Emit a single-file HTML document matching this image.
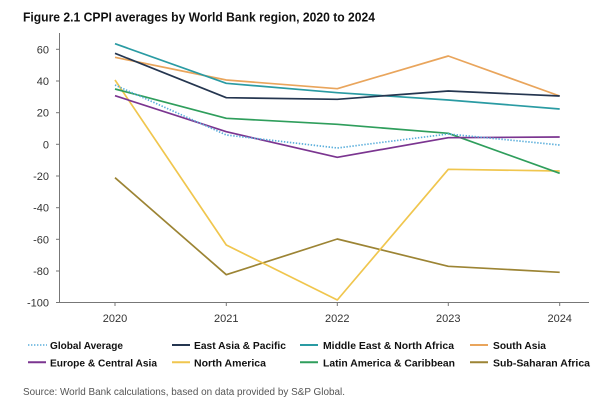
<!DOCTYPE html>
<html><head><meta charset="utf-8"><style>
html,body{margin:0;padding:0;background:#fff;}
body{width:600px;height:409px;overflow:hidden;position:relative;font-family:"Liberation Sans",sans-serif;}
svg{position:absolute;left:0;top:0;}
</style></head><body>
<svg width="600" height="409" viewBox="0 0 600 409" xmlns="http://www.w3.org/2000/svg">
<text x="23" y="21.5" font-family="Liberation Sans, sans-serif" font-weight="bold" font-size="12.6" fill="#111" textLength="352" lengthAdjust="spacingAndGlyphs">Figure 2.1 CPPI averages by World Bank region, 2020 to 2024</text>
<g stroke="#777" stroke-width="1" fill="none">
<line x1="59.5" y1="33" x2="59.5" y2="302.5"/>
<line x1="59.5" y1="302.5" x2="589" y2="302.5"/>
<line x1="56" y1="49.3" x2="59.5" y2="49.3"/>
<line x1="56" y1="81" x2="59.5" y2="81"/>
<line x1="56" y1="112.7" x2="59.5" y2="112.7"/>
<line x1="56" y1="144.3" x2="59.5" y2="144.3"/>
<line x1="56" y1="176" x2="59.5" y2="176"/>
<line x1="56" y1="207.7" x2="59.5" y2="207.7"/>
<line x1="56" y1="239.3" x2="59.5" y2="239.3"/>
<line x1="56" y1="271" x2="59.5" y2="271"/>
<line x1="56" y1="302.5" x2="59.5" y2="302.5"/>
<line x1="115" y1="302.5" x2="115" y2="306"/>
<line x1="226.3" y1="302.5" x2="226.3" y2="306"/>
<line x1="337.3" y1="302.5" x2="337.3" y2="306"/>
<line x1="448.3" y1="302.5" x2="448.3" y2="306"/>
<line x1="559.7" y1="302.5" x2="559.7" y2="306"/>
</g>
<g font-family="Liberation Sans, sans-serif" font-size="11" fill="#333" text-anchor="end">
<text x="49" y="53.3">60</text>
<text x="49" y="85">40</text>
<text x="49" y="116.7">20</text>
<text x="49" y="148.3">0</text>
<text x="49" y="180">-20</text>
<text x="49" y="211.7">-40</text>
<text x="49" y="243.3">-60</text>
<text x="49" y="275">-80</text>
<text x="49" y="306.5">-100</text>
</g>
<g font-family="Liberation Sans, sans-serif" font-size="11" fill="#333" text-anchor="middle">
<text x="115" y="322">2020</text>
<text x="226.3" y="322">2021</text>
<text x="337.3" y="322">2022</text>
<text x="448.3" y="322">2023</text>
<text x="559.7" y="322">2024</text>
</g>
<g fill="none" stroke-width="1.7" stroke-linejoin="round">
<polyline stroke="#9c8434" points="115,177.7 226.3,274.7 337.3,239 448.3,266.3 559.7,272.3"/>
<polyline stroke="#f0c64e" points="115,80 226.3,245 337.3,300 448.3,169.3 559.7,171"/>
<polyline stroke="#2f9e5c" points="115,89 226.3,118.3 337.3,124.3 448.3,133.3 559.7,173.3"/>
<polyline stroke="#7b3590" points="115,95.7 226.3,131.7 337.3,157.3 448.3,137.7 559.7,137"/>
<polyline stroke="#e9a55c" points="115,57.3 226.3,80 337.3,88.7 448.3,56 559.7,96"/>
<polyline stroke="#2a9ba3" points="115,43.7 226.3,83.3 337.3,92.7 448.3,100 559.7,109"/>
<polyline stroke="#253650" points="115,53.3 226.3,97.7 337.3,99.3 448.3,91 559.7,96"/>
<polyline stroke="#5aaedb" stroke-dasharray="1.4,1.6" points="115,85 226.3,135 337.3,148 448.3,134 559.7,145"/>
</g>
<g stroke-width="2" fill="none">
<line x1="28" y1="345" x2="47" y2="345" stroke="#5aaedb" stroke-dasharray="1.4,1.6" stroke-width="1.6"/>
<line x1="172" y1="345" x2="190" y2="345" stroke="#253650"/>
<line x1="300" y1="345" x2="318" y2="345" stroke="#2a9ba3"/>
<line x1="470" y1="345" x2="488" y2="345" stroke="#e9a55c"/>
<line x1="28" y1="362.3" x2="46" y2="362.3" stroke="#7b3590"/>
<line x1="172" y1="362.3" x2="190" y2="362.3" stroke="#f0c64e"/>
<line x1="300" y1="362.3" x2="318" y2="362.3" stroke="#2f9e5c"/>
<line x1="470" y1="362.3" x2="488" y2="362.3" stroke="#9c8434"/>
</g>
<g font-family="Liberation Sans, sans-serif" font-weight="bold" font-size="10.5" fill="#111">
<text x="50" y="349" textLength="73" lengthAdjust="spacingAndGlyphs">Global Average</text>
<text x="194" y="349" textLength="92" lengthAdjust="spacingAndGlyphs">East Asia &amp; Pacific</text>
<text x="323" y="349" textLength="131" lengthAdjust="spacingAndGlyphs">Middle East &amp; North Africa</text>
<text x="493" y="349" textLength="53" lengthAdjust="spacingAndGlyphs">South Asia</text>
<text x="50" y="366.3" textLength="107" lengthAdjust="spacingAndGlyphs">Europe &amp; Central Asia</text>
<text x="194" y="366.3" textLength="72" lengthAdjust="spacingAndGlyphs">North America</text>
<text x="323" y="366.3" textLength="132" lengthAdjust="spacingAndGlyphs">Latin America &amp; Caribbean</text>
<text x="493" y="366.3" textLength="97" lengthAdjust="spacingAndGlyphs">Sub-Saharan Africa</text>
</g>
<text x="23" y="395" font-family="Liberation Sans, sans-serif" font-size="9.8" fill="#555" textLength="322" lengthAdjust="spacingAndGlyphs">Source: World Bank calculations, based on data provided by S&amp;P Global.</text>
</svg>
</body></html>
